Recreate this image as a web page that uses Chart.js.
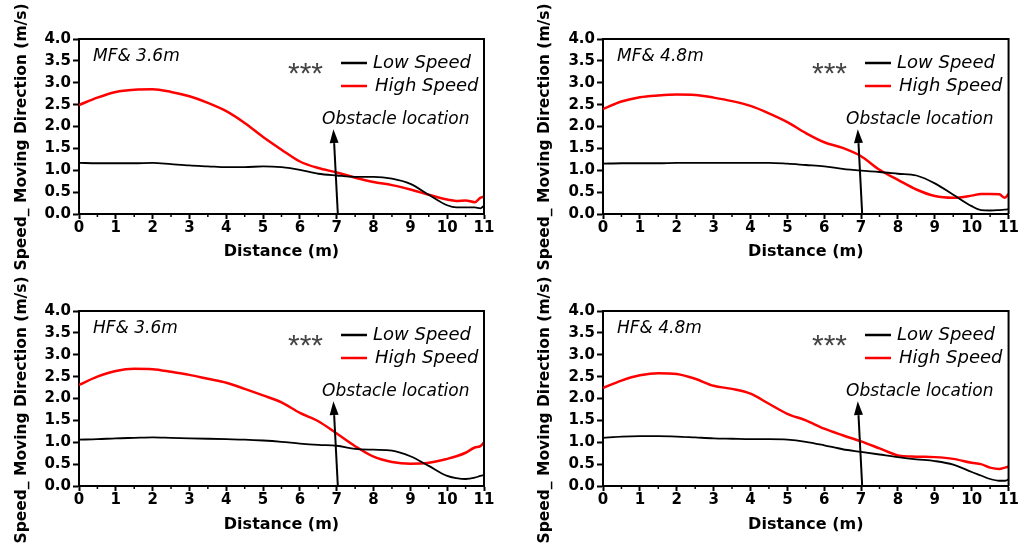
<!DOCTYPE html>
<html>
<head>
<meta charset="utf-8">
<script src="https://cdn.jsdelivr.net/npm/chart.js@4.4.0/dist/chart.umd.min.js"></script>
<style>
body{margin:0;background:#fff;}
#wrap{position:relative;width:1019px;height:546px;overflow:hidden;}
.panel{position:absolute;}
</style>
</head>
<body>
<div id="wrap">
  <div class="panel" style="left:0;top:0"><canvas id="c1" width="510" height="273"></canvas></div>
  <div class="panel" style="left:510px;top:0"><canvas id="c2" width="509" height="273"></canvas></div>
  <div class="panel" style="left:0;top:273px"><canvas id="c3" width="510" height="273"></canvas></div>
  <div class="panel" style="left:510px;top:273px"><canvas id="c4" width="509" height="273"></canvas></div>
</div>
<script>
// distance along the path (m)
const distance = [0,0.5,1,1.5,2,2.5,3,3.5,4,4.5,5,5.5,6,6.5,7,7.5,8,8.5,9,9.5,10,10.25,10.5,10.75,10.9,11];

// MF & 3.6m
const mf36Low  = [1.17,1.16,1.16,1.16,1.17,1.14,1.11,1.09,1.07,1.07,1.09,1.07,1.01,0.92,0.88,0.85,0.85,0.81,0.69,0.44,0.20,0.15,0.15,0.15,0.13,0.19];
const mf36High = [2.49,2.66,2.79,2.84,2.85,2.79,2.69,2.54,2.35,2.08,1.76,1.47,1.20,1.05,0.95,0.83,0.73,0.66,0.56,0.44,0.33,0.30,0.31,0.27,0.37,0.40];
// MF & 4.8m
const mf48Low  = [1.15,1.16,1.16,1.16,1.17,1.17,1.17,1.17,1.17,1.17,1.15,1.12,1.09,1.03,0.99,0.96,0.92,0.88,0.70,0.44,0.18,0.09,0.08,0.09,0.10,0.11];
const mf48High = [2.40,2.57,2.67,2.71,2.73,2.72,2.66,2.58,2.47,2.30,2.10,1.85,1.64,1.51,1.32,1.01,0.78,0.56,0.41,0.37,0.42,0.46,0.46,0.45,0.37,0.46];
// HF & 3.6m
const hf36Low  = [1.06,1.07,1.09,1.10,1.11,1.10,1.09,1.08,1.07,1.06,1.04,1.01,0.97,0.94,0.92,0.85,0.83,0.81,0.68,0.46,0.23,0.18,0.16,0.19,0.23,0.25];
const hf36High = [2.31,2.50,2.63,2.68,2.67,2.61,2.54,2.45,2.36,2.22,2.07,1.91,1.67,1.48,1.20,0.91,0.67,0.55,0.51,0.53,0.62,0.68,0.76,0.88,0.91,1.00];
// HF & 4.8m
const hf48Low  = [1.10,1.13,1.14,1.14,1.13,1.11,1.09,1.08,1.07,1.07,1.06,1.01,0.93,0.84,0.78,0.72,0.66,0.61,0.57,0.49,0.32,0.24,0.16,0.12,0.12,0.15];
const hf48High = [2.24,2.41,2.53,2.58,2.56,2.45,2.29,2.22,2.11,1.88,1.65,1.50,1.31,1.16,1.02,0.86,0.70,0.67,0.66,0.62,0.53,0.50,0.42,0.39,0.42,0.44];

const seriesNames = ["Low Speed", "High Speed"];
const seriesColors = ["#000000", "#ff0000"];
const obstacleAt = 7;

const font = "DejaVu Sans";

// draws the frame, labels, legend and the obstacle arrow
const decor = {
  id: "decor",
  afterDraw(chart, args, opts) {
    const ctx = chart.ctx;
    const a = chart.chartArea;
    const xs = chart.scales.x, ys = chart.scales.y;
    ctx.save();

    // top + right frame
    ctx.strokeStyle = "#000";
    ctx.lineWidth = 2;
    ctx.beginPath();
    ctx.moveTo(a.left, a.top);
    ctx.lineTo(a.right, a.top);
    ctx.lineTo(a.right, a.bottom);
    ctx.stroke();

    // minor ticks on x
    ctx.lineWidth = 1.5;
    for (let v = 0.5; v < 11; v += 1) {
      const px = xs.getPixelForValue(v);
      ctx.beginPath();
      ctx.moveTo(px, a.bottom);
      ctx.lineTo(px, a.bottom + 3);
      ctx.stroke();
    }

    // y title
    ctx.fillStyle = "#000";
    ctx.font = "bold 15.5px '" + font + "'";
    ctx.textAlign = "center";
    ctx.textBaseline = "middle";
    ctx.translate(opts.titleX, 137);
    ctx.rotate(-Math.PI / 2);
    ctx.fillText("Speed_ Moving Direction (m/s)", 0, 0);
    ctx.setTransform(1, 0, 0, 1, 0, 0);

    // panel tag
    ctx.textAlign = "left";
    ctx.font = "italic 17px '" + font + "'";
    ctx.fillText(opts.tag, a.left + 14, a.top + 18);

    // stars
    ctx.fillStyle = "#444";
    ctx.textBaseline = "alphabetic";
    ctx.font = "30px 'Liberation Sans'";
    ctx.fillText("***", a.left + 209, a.top + 44);

    // legend
    ctx.textBaseline = "middle";
    ctx.font = "italic 18px '" + font + "'";
    chart.data.datasets.forEach((ds, i) => {
      const y = a.top + 24 + i * 23;
      ctx.strokeStyle = ds.borderColor;
      ctx.lineWidth = 2.5;
      ctx.beginPath();
      ctx.moveTo(a.left + 262, y);
      ctx.lineTo(a.left + 288, y);
      ctx.stroke();
      ctx.fillStyle = "#000";
      ctx.fillText(ds.label, a.left + 294 + i * 2, y);
    });

    // obstacle arrow
    ctx.font = "italic 17px '" + font + "'";
    ctx.fillText("Obstacle location", a.left + 243, a.top + 81);
    const x0 = xs.getPixelForValue(obstacleAt + 0.03), y0 = ys.getPixelForValue(0);
    const x1 = xs.getPixelForValue(obstacleAt - 0.09), y1 = ys.getPixelForValue(1.94);
    const ang = Math.atan2(y1 - y0, x1 - x0);
    const hl = 14, hw = 4.5;
    const bx = x1 - hl * Math.cos(ang), by = y1 - hl * Math.sin(ang);
    ctx.strokeStyle = "#000";
    ctx.lineWidth = 2;
    ctx.beginPath();
    ctx.moveTo(x0, y0);
    ctx.lineTo(bx, by);
    ctx.stroke();
    ctx.fillStyle = "#000";
    ctx.beginPath();
    ctx.moveTo(x1, y1);
    ctx.lineTo(bx + hw * Math.sin(ang), by - hw * Math.cos(ang));
    ctx.lineTo(bx - hw * Math.sin(ang), by + hw * Math.cos(ang));
    ctx.closePath();
    ctx.fill();

    ctx.restore();
  }
};

const makeChart = (id, tag, low, high, pad, axisH, titleX) => {
  const toPts = (arr) => distance.map((d, i) => ({ x: d, y: arr[i] }));
  new Chart(document.getElementById(id), {
    type: "line",
    data: {
      datasets: [
        { label: seriesNames[0], data: toPts(low), borderColor: seriesColors[0], borderWidth: 1.8 },
        { label: seriesNames[1], data: toPts(high), borderColor: seriesColors[1], borderWidth: 2.5 },
      ],
    },
    options: {
      responsive: false,
      animation: false,
      elements: { point: { radius: 0 }, line: { cubicInterpolationMode: "monotone" } },
      layout: { padding: pad },
      plugins: {
        legend: { display: false },
        tooltip: { enabled: false },
        decor: { tag: tag, titleX: titleX },
      },
      scales: {
        x: {
          type: "linear",
          min: 0,
          max: 11,
          ticks: {
            stepSize: 1,
            autoSkip: false,
            maxRotation: 0,
            padding: 0,
            color: "#000",
            font: { family: font, weight: "bold", size: 15 },
          },
          grid: { drawOnChartArea: false, tickLength: 5, tickWidth: 2, tickColor: "#000" },
          border: { color: "#000", width: 2 },
          title: {
            display: true,
            text: "Distance (m)",
            color: "#000",
            font: { family: font, weight: "bold", size: 16 },
            padding: { top: 0, bottom: 12 },
          },
          afterFit: (s) => { s.height = axisH; },
        },
        y: {
          min: 0,
          max: 4,
          ticks: {
            stepSize: 0.5,
            padding: 2,
            color: "#000",
            font: { family: font, weight: "bold", size: 15 },
            callback: (v) => v.toFixed(1),
          },
          grid: { drawOnChartArea: false, tickLength: 6, tickWidth: 2, tickColor: "#000" },
          border: { color: "#000", width: 2 },
          afterFit: (s) => { s.width = 79; },
        },
      },
    },
    plugins: [decor],
  });
};

makeChart("c1", "MF& 3.6m", mf36Low, mf36High, { left: 0, right: 26, top: 39, bottom: 0 }, 59, 22);
makeChart("c2", "MF& 4.8m", mf48Low, mf48High, { left: 14, right: 10, top: 39, bottom: 0 }, 59, 35);
makeChart("c3", "HF& 3.6m", hf36Low, hf36High, { left: 0, right: 26, top: 38, bottom: 0 }, 60, 22);
makeChart("c4", "HF& 4.8m", hf48Low, hf48High, { left: 14, right: 10, top: 38, bottom: 0 }, 60, 35);
</script>
</body>
</html>
